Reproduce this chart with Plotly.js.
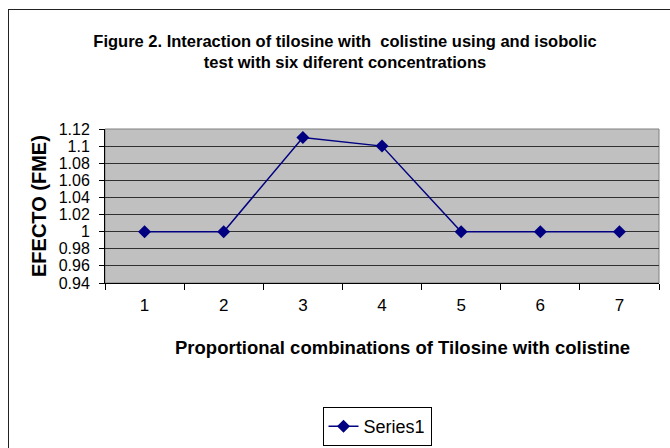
<!DOCTYPE html>
<html>
<head>
<meta charset="utf-8">
<script src="https://cdn.plot.ly/plotly-3.0.1.min.js"></script>
<style>
  html, body { margin: 0; padding: 0; background: #fff; }
  #wrap { position: relative; width: 670px; height: 448px; overflow: hidden; }
  #chart { width: 670px; height: 448px; }
  #frame { position: absolute; left: 8px; top: 9px; width: 700px; height: 500px;
           border-left: 1.5px solid #222; border-top: 1.5px solid #222; pointer-events: none; }
</style>
</head>
<body>
<div id="wrap">
  <div id="chart"></div>
  <div id="frame"></div>
</div>
<script>
const categories = ["1", "2", "3", "4", "5", "6", "7"];
const series1 = [1.00, 1.00, 1.11, 1.10, 1.00, 1.00, 1.00];
const seriesName = "Series1";
const yTickVals = [0.94, 0.96, 0.98, 1.00, 1.02, 1.04, 1.06, 1.08, 1.10, 1.12];
const yTickText = ["0.94", "0.96", "0.98", "1", "1.02", "1.04", "1.06", "1.08", "1.1", "1.12"];
const titleText = "Figure 2. Interaction of tilosine with  colistine using and isobolic<br>test with six diferent concentrations";
const xTitleText = "Proportional combinations of Tilosine with colistine";
const yTitleText = "EFECTO (FME)";

const FONT = "Arial, 'Liberation Sans', sans-serif";
const NAVY = "#000080";

const trace = {
  type: "scatter",
  mode: "lines+markers",
  name: seriesName,
  x: categories,
  y: series1,
  line: { color: NAVY, width: 1.5 },
  marker: { symbol: "diamond", size: 10, color: NAVY },
  showlegend: true
};

const layout = {
  width: 670,
  height: 448,
  margin: { l: 105, r: 11, t: 129, b: 165, autoexpand: false },
  paper_bgcolor: "#ffffff",
  plot_bgcolor: "#c0c0c0",
  font: { family: FONT, color: "#000" },
  title: {
    text: titleText,
    font: { family: FONT, size: 16.5, color: "#000", weight: "bold" },
    x: 345 / 670, xanchor: "center",
    xref: "container",
    y: 1 - 47 / 448, yref: "container", yanchor: "top"
  },
  xaxis: {
    type: "category",
    range: [-0.5, 6.5],
    tickson: "boundaries",
    ticks: "outside",
    ticklen: 6,
    tickcolor: "#000",
    ticklabelstandoff: 7,
    showgrid: false,
    showline: true,
    linecolor: "#000",
    linewidth: 1,
    zeroline: false,
    automargin: false,
    tickfont: { family: FONT, size: 17, color: "#000" },
    title: { text: "" },
    fixedrange: true
  },
  yaxis: {
    range: [0.94, 1.12],
    tickmode: "array",
    tickvals: yTickVals,
    ticktext: yTickText,
    ticks: "outside",
    ticklen: 5,
    tickcolor: "#000",
    ticklabelstandoff: 6,
    showgrid: true,
    gridcolor: "#303030",
    gridwidth: 1,
    showline: true,
    linecolor: "#000",
    linewidth: 1,
    zeroline: false,
    automargin: false,
    tickfont: { family: FONT, size: 16, color: "#000" },
    title: { text: "" },
    fixedrange: true
  },
  shapes: [
    { type: "rect", xref: "x domain", yref: "y domain", x0: 0, x1: 1, y0: 0, y1: 1,
      line: { color: "#808080", width: 1 }, layer: "below" }
  ],
  annotations: [
    { text: yTitleText, textangle: -90, xref: "paper", yref: "paper",
      x: (39 - 105) / 554, y: 0.5, xanchor: "center", yanchor: "middle", showarrow: false,
      font: { family: FONT, size: 20, color: "#000", weight: "bold" } },
    { text: xTitleText, xref: "paper", yref: "paper",
      x: (402 - 105) / 554, y: (283 - 347) / 154, xanchor: "center", yanchor: "middle", showarrow: false,
      font: { family: FONT, size: 18.5, color: "#000", weight: "bold" } }
  ],
  legend: {
    x: (377 - 105) / 554, xanchor: "center",
    y: (283 - 407) / 154, yanchor: "top",
    bordercolor: "#000", borderwidth: 1,
    bgcolor: "#fff",
    font: { family: FONT, size: 18, color: "#000" }
  },
  showlegend: true
};

Plotly.newPlot("chart", [trace], layout, { displayModeBar: false, staticPlot: true });
</script>
</body>
</html>
